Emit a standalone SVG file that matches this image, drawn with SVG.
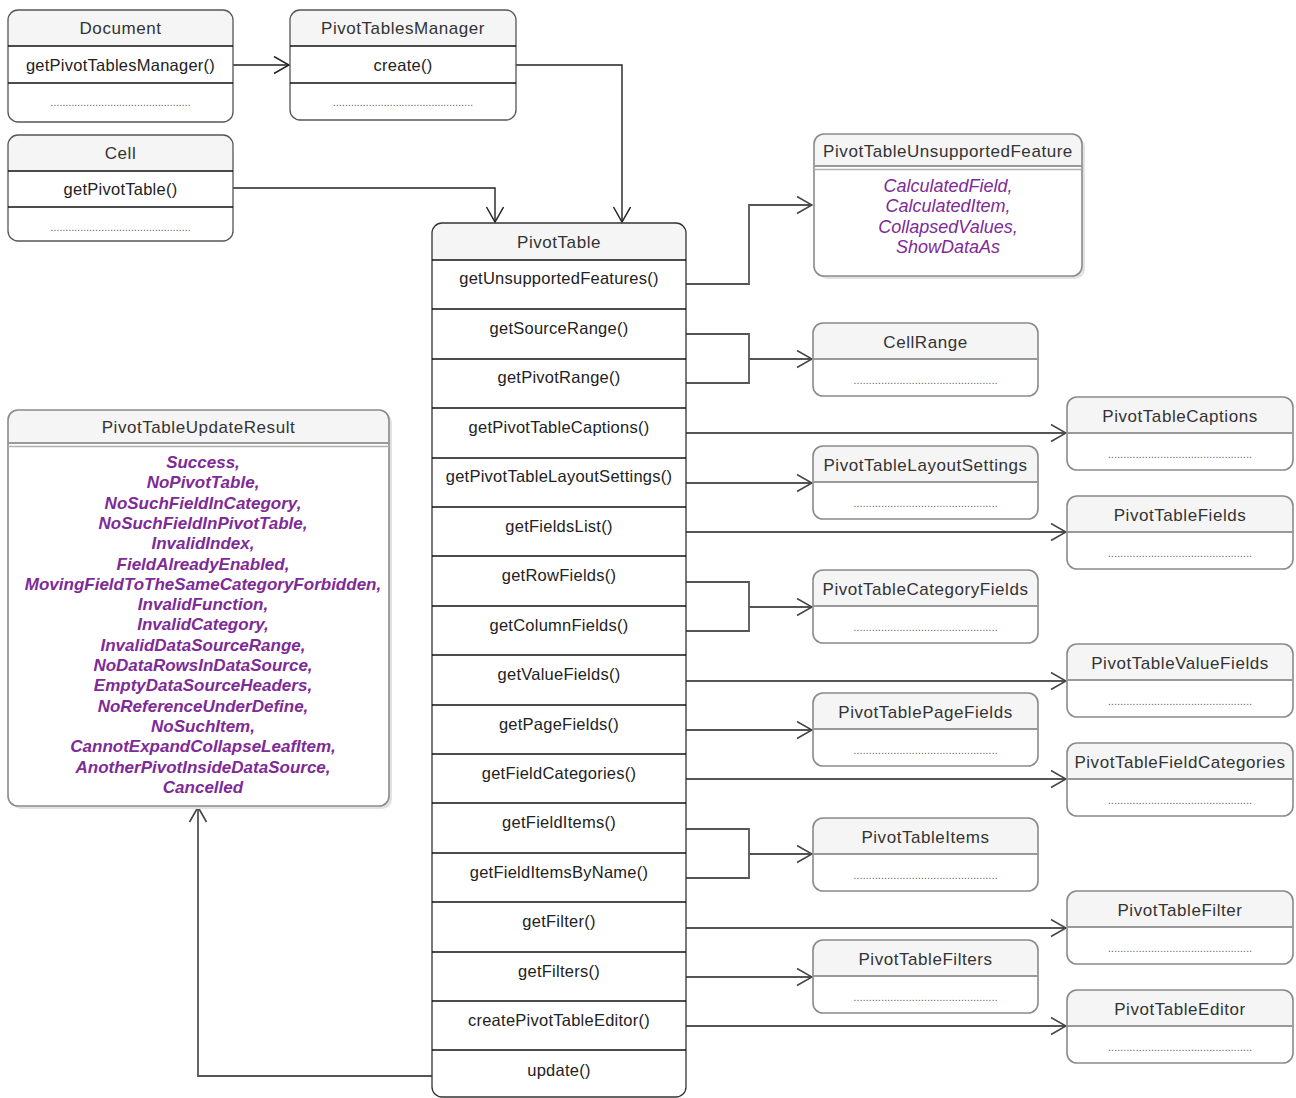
<svg xmlns="http://www.w3.org/2000/svg" width="1296" height="1098" viewBox="0 0 1296 1098">
  <style>
    text { font-family: "Liberation Sans", Arial, sans-serif; }
    .bg { fill: #ffffff; }
    .hdr { fill: #f5f5f5; }
    .title { font-size: 17px; letter-spacing: 0.55px; fill: #333333; text-anchor: middle; }
    .method { font-size: 16.5px; letter-spacing: 0.25px; fill: #222222; text-anchor: middle; }
    .dots { font-size: 10px; fill: #555555; text-anchor: middle; }
    .enum { font-size: 18px; font-style: italic; fill: #7e2a97; text-anchor: middle; }
    .enumb { font-size: 17px; font-style: italic; font-weight: bold; fill: #7e2a97; text-anchor: middle; }
    .dark { fill: none; stroke: #555555; stroke-width: 1.3; }
    .grey { fill: none; stroke: #8a8a8a; stroke-width: 1.6; }
    .sep { stroke: #111111; stroke-width: 1.3; }
    .gsep { stroke: #999999; stroke-width: 2; }
    .shadow { fill: #e2e2e2; }
    .edge { fill: none; stroke: #555555; stroke-width: 1.8; }
    .edgek { fill: none; stroke: #222222; stroke-width: 1.4; }
  </style>
  <defs>
    <marker id="open" markerUnits="userSpaceOnUse" markerWidth="17" markerHeight="20" refX="16" refY="9" orient="auto">
      <path d="M1,0.5 L16,9 L1,17.5" fill="none" stroke="#444444" stroke-width="1.6"/>
    </marker>
    <marker id="openk" markerUnits="userSpaceOnUse" markerWidth="17" markerHeight="20" refX="16" refY="9" orient="auto">
      <path d="M1,0.5 L16,9 L1,17.5" fill="none" stroke="#222222" stroke-width="1.5"/>
    </marker>
  </defs>

  <!-- connectors -->
  <g id="connectors">
    <path class="edgek" d="M233,65 H289" marker-end="url(#openk)"/>
    <path class="edgek" d="M516,65 H622 V222" marker-end="url(#openk)"/>
    <path class="edgek" d="M233,188 H495 V222" marker-end="url(#openk)"/>
    <path class="edge" d="M686,284 H749 V205 H812" marker-end="url(#open)"/>
    <path class="edge" d="M686,334 H749 V383 H686"/>
    <path class="edge" d="M749,359 H812" marker-end="url(#open)"/>
    <path class="edge" d="M686,433 H1066" marker-end="url(#open)"/>
    <path class="edge" d="M686,483 H812" marker-end="url(#open)"/>
    <path class="edge" d="M686,532 H1066" marker-end="url(#open)"/>
    <path class="edge" d="M686,582 H749 V631 H686"/>
    <path class="edge" d="M749,607 H812" marker-end="url(#open)"/>
    <path class="edge" d="M686,681 H1066" marker-end="url(#open)"/>
    <path class="edge" d="M686,730 H812" marker-end="url(#open)"/>
    <path class="edge" d="M686,779 H1066" marker-end="url(#open)"/>
    <path class="edge" d="M686,829 H749 V878 H686"/>
    <path class="edge" d="M749,854 H812" marker-end="url(#open)"/>
    <path class="edge" d="M686,928 H1066" marker-end="url(#open)"/>
    <path class="edge" d="M686,977 H812" marker-end="url(#open)"/>
    <path class="edge" d="M686,1026 H1066" marker-end="url(#open)"/>
    <path class="edge" d="M432,1076 H198 V807" marker-end="url(#open)"/>
  </g>

  <!-- Document -->
  <g id="document">
    <rect class="bg" x="8" y="10" width="225" height="112" rx="10"/>
    <path class="hdr" d="M18,10 H223 A10,10 0 0 1 233,20 V46 H8 V20 A10,10 0 0 1 18,10 Z"/>
    <rect class="dark" x="8" y="10" width="225" height="112" rx="10"/>
    <line class="sep" x1="8" y1="46" x2="233" y2="46"/>
    <line class="sep" x1="8" y1="83" x2="233" y2="83"/>
    <text class="title" x="120.5" y="34">Document</text>
    <text class="method" x="120.5" y="71">getPivotTablesManager()</text>
    <text class="dots" x="120.5" y="106" textLength="140" lengthAdjust="spacing">...............................................</text>
  </g>

  <!-- PivotTablesManager -->
  <g id="pivot-tables-manager">
    <rect class="bg" x="290" y="10" width="226" height="110" rx="10"/>
    <path class="hdr" d="M300,10 H506 A10,10 0 0 1 516,20 V46 H290 V20 A10,10 0 0 1 300,10 Z"/>
    <rect class="dark" x="290" y="10" width="226" height="110" rx="10"/>
    <line class="sep" x1="290" y1="46" x2="516" y2="46"/>
    <line class="sep" x1="290" y1="83" x2="516" y2="83"/>
    <text class="title" x="403" y="34">PivotTablesManager</text>
    <text class="method" x="403" y="71">create()</text>
    <text class="dots" x="403" y="106" textLength="140" lengthAdjust="spacing">...............................................</text>
  </g>

  <!-- Cell -->
  <g id="cell">
    <rect class="bg" x="8" y="135" width="225" height="106" rx="10"/>
    <path class="hdr" d="M18,135 H223 A10,10 0 0 1 233,145 V171 H8 V145 A10,10 0 0 1 18,135 Z"/>
    <rect class="dark" x="8" y="135" width="225" height="106" rx="10"/>
    <line class="sep" x1="8" y1="171" x2="233" y2="171"/>
    <line class="sep" x1="8" y1="207" x2="233" y2="207"/>
    <text class="title" x="120.5" y="159">Cell</text>
    <text class="method" x="120.5" y="195">getPivotTable()</text>
    <text class="dots" x="120.5" y="231" textLength="140" lengthAdjust="spacing">...............................................</text>
  </g>

  <!-- PivotTable -->
  <g id="pivot-table">
    <rect class="bg" x="432" y="223" width="254" height="874" rx="10"/>
    <path class="hdr" d="M442,223 H676 A10,10 0 0 1 686,233 V260 H432 V233 A10,10 0 0 1 442,223 Z"/>
    <rect x="432" y="223" width="254" height="874" rx="10" fill="none" stroke="#333333" stroke-width="1.3"/>
    <g class="sep">
      <line x1="432" y1="260" x2="686" y2="260"/>
      <line x1="432" y1="309" x2="686" y2="309"/>
      <line x1="432" y1="359" x2="686" y2="359"/>
      <line x1="432" y1="408" x2="686" y2="408"/>
      <line x1="432" y1="458" x2="686" y2="458"/>
      <line x1="432" y1="507" x2="686" y2="507"/>
      <line x1="432" y1="556" x2="686" y2="556"/>
      <line x1="432" y1="606" x2="686" y2="606"/>
      <line x1="432" y1="655" x2="686" y2="655"/>
      <line x1="432" y1="705" x2="686" y2="705"/>
      <line x1="432" y1="754" x2="686" y2="754"/>
      <line x1="432" y1="803" x2="686" y2="803"/>
      <line x1="432" y1="853" x2="686" y2="853"/>
      <line x1="432" y1="902" x2="686" y2="902"/>
      <line x1="432" y1="952" x2="686" y2="952"/>
      <line x1="432" y1="1001" x2="686" y2="1001"/>
      <line x1="432" y1="1050" x2="686" y2="1050"/>
    </g>
    <text class="title" x="559" y="248">PivotTable</text>
    <text class="method" x="559" y="284">getUnsupportedFeatures()</text>
    <text class="method" x="559" y="334">getSourceRange()</text>
    <text class="method" x="559" y="383">getPivotRange()</text>
    <text class="method" x="559" y="433">getPivotTableCaptions()</text>
    <text class="method" x="559" y="482">getPivotTableLayoutSettings()</text>
    <text class="method" x="559" y="532">getFieldsList()</text>
    <text class="method" x="559" y="581">getRowFields()</text>
    <text class="method" x="559" y="631">getColumnFields()</text>
    <text class="method" x="559" y="680">getValueFields()</text>
    <text class="method" x="559" y="730">getPageFields()</text>
    <text class="method" x="559" y="779">getFieldCategories()</text>
    <text class="method" x="559" y="828">getFieldItems()</text>
    <text class="method" x="559" y="878">getFieldItemsByName()</text>
    <text class="method" x="559" y="927">getFilter()</text>
    <text class="method" x="559" y="977">getFilters()</text>
    <text class="method" x="559" y="1026">createPivotTableEditor()</text>
    <text class="method" x="559" y="1076">update()</text>
  </g>

  <!-- PivotTableUnsupportedFeature -->
  <g id="pivot-table-unsupported-feature">
    <rect class="shadow" x="817" y="137" width="268" height="142" rx="10"/>
    <rect class="bg" x="814" y="134" width="268" height="142" rx="10"/>
    <path class="hdr" d="M824,134 H1072 A10,10 0 0 1 1082,144 V166 H814 V144 A10,10 0 0 1 824,134 Z"/>
    <rect class="grey" x="814" y="134" width="268" height="142" rx="10"/>
    <line class="gsep" x1="814" y1="166" x2="1082" y2="166"/>
    <line x1="814" y1="169.5" x2="1082" y2="169.5" stroke="#b0b0b0" stroke-width="1.5"/>
    <text class="title" x="948" y="157">PivotTableUnsupportedFeature</text>
    <text class="enum" x="948" y="192">CalculatedField,</text>
    <text class="enum" x="948" y="212">CalculatedItem,</text>
    <text class="enum" x="948" y="233">CollapsedValues,</text>
    <text class="enum" x="948" y="253">ShowDataAs</text>
  </g>

  <!-- PivotTableUpdateResult -->
  <g id="pivot-table-update-result">
    <rect class="shadow" x="11" y="413" width="381" height="396" rx="10"/>
    <rect class="bg" x="8" y="410" width="381" height="396" rx="10"/>
    <path class="hdr" d="M18,410 H379 A10,10 0 0 1 389,420 V443 H8 V420 A10,10 0 0 1 18,410 Z"/>
    <rect class="grey" x="8" y="410" width="381" height="396" rx="10"/>
    <line class="gsep" x1="8" y1="443" x2="389" y2="443"/>
    <line x1="8" y1="446.5" x2="389" y2="446.5" stroke="#b0b0b0" stroke-width="1.5"/>
    <text class="title" x="198.5" y="433">PivotTableUpdateResult</text>
    <text class="enumb" x="203" y="468">Success,</text>
    <text class="enumb" x="203" y="488.3">NoPivotTable,</text>
    <text class="enumb" x="203" y="508.6">NoSuchFieldInCategory,</text>
    <text class="enumb" x="203" y="528.9">NoSuchFieldInPivotTable,</text>
    <text class="enumb" x="203" y="549.2">InvalidIndex,</text>
    <text class="enumb" x="203" y="569.5">FieldAlreadyEnabled,</text>
    <text class="enumb" x="203" y="589.8">MovingFieldToTheSameCategoryForbidden,</text>
    <text class="enumb" x="203" y="610.1">InvalidFunction,</text>
    <text class="enumb" x="203" y="630.4">InvalidCategory,</text>
    <text class="enumb" x="203" y="650.7">InvalidDataSourceRange,</text>
    <text class="enumb" x="203" y="671">NoDataRowsInDataSource,</text>
    <text class="enumb" x="203" y="691.3">EmptyDataSourceHeaders,</text>
    <text class="enumb" x="203" y="711.6">NoReferenceUnderDefine,</text>
    <text class="enumb" x="203" y="731.9">NoSuchItem,</text>
    <text class="enumb" x="203" y="752.2">CannotExpandCollapseLeafItem,</text>
    <text class="enumb" x="203" y="772.5">AnotherPivotInsideDataSource,</text>
    <text class="enumb" x="203" y="792.8">Cancelled</text>
  </g>

  <!-- result classes, left column -->
  <g id="cell-range">
    <rect class="bg" x="813" y="323" width="225" height="73" rx="10"/>
    <path class="hdr" d="M823,323 H1028 A10,10 0 0 1 1038,333 V359 H813 V333 A10,10 0 0 1 823,323 Z"/>
    <rect class="grey" x="813" y="323" width="225" height="73" rx="10"/>
    <line class="gsep" x1="813" y1="359" x2="1038" y2="359"/>
    <text class="title" x="925.5" y="348">CellRange</text>
    <text class="dots" x="925.5" y="384" textLength="144" lengthAdjust="spacing">...............................................</text>
  </g>
  <g id="pivot-table-layout-settings">
    <rect class="bg" x="813" y="446" width="225" height="73" rx="10"/>
    <path class="hdr" d="M823,446 H1028 A10,10 0 0 1 1038,456 V482 H813 V456 A10,10 0 0 1 823,446 Z"/>
    <rect class="grey" x="813" y="446" width="225" height="73" rx="10"/>
    <line class="gsep" x1="813" y1="482" x2="1038" y2="482"/>
    <text class="title" x="925.5" y="471">PivotTableLayoutSettings</text>
    <text class="dots" x="925.5" y="507" textLength="144" lengthAdjust="spacing">...............................................</text>
  </g>
  <g id="pivot-table-category-fields">
    <rect class="bg" x="813" y="570" width="225" height="73" rx="10"/>
    <path class="hdr" d="M823,570 H1028 A10,10 0 0 1 1038,580 V606 H813 V580 A10,10 0 0 1 823,570 Z"/>
    <rect class="grey" x="813" y="570" width="225" height="73" rx="10"/>
    <line class="gsep" x1="813" y1="606" x2="1038" y2="606"/>
    <text class="title" x="925.5" y="595">PivotTableCategoryFields</text>
    <text class="dots" x="925.5" y="631" textLength="144" lengthAdjust="spacing">...............................................</text>
  </g>
  <g id="pivot-table-page-fields">
    <rect class="bg" x="813" y="693" width="225" height="73" rx="10"/>
    <path class="hdr" d="M823,693 H1028 A10,10 0 0 1 1038,703 V729 H813 V703 A10,10 0 0 1 823,693 Z"/>
    <rect class="grey" x="813" y="693" width="225" height="73" rx="10"/>
    <line class="gsep" x1="813" y1="729" x2="1038" y2="729"/>
    <text class="title" x="925.5" y="718">PivotTablePageFields</text>
    <text class="dots" x="925.5" y="754" textLength="144" lengthAdjust="spacing">...............................................</text>
  </g>
  <g id="pivot-table-items">
    <rect class="bg" x="813" y="818" width="225" height="73" rx="10"/>
    <path class="hdr" d="M823,818 H1028 A10,10 0 0 1 1038,828 V854 H813 V828 A10,10 0 0 1 823,818 Z"/>
    <rect class="grey" x="813" y="818" width="225" height="73" rx="10"/>
    <line class="gsep" x1="813" y1="854" x2="1038" y2="854"/>
    <text class="title" x="925.5" y="843">PivotTableItems</text>
    <text class="dots" x="925.5" y="879" textLength="144" lengthAdjust="spacing">...............................................</text>
  </g>
  <g id="pivot-table-filters">
    <rect class="bg" x="813" y="940" width="225" height="73" rx="10"/>
    <path class="hdr" d="M823,940 H1028 A10,10 0 0 1 1038,950 V976 H813 V950 A10,10 0 0 1 823,940 Z"/>
    <rect class="grey" x="813" y="940" width="225" height="73" rx="10"/>
    <line class="gsep" x1="813" y1="976" x2="1038" y2="976"/>
    <text class="title" x="925.5" y="965">PivotTableFilters</text>
    <text class="dots" x="925.5" y="1001" textLength="144" lengthAdjust="spacing">...............................................</text>
  </g>

  <!-- result classes, right column -->
  <g id="pivot-table-captions">
    <rect class="bg" x="1067" y="397" width="226" height="73" rx="10"/>
    <path class="hdr" d="M1077,397 H1283 A10,10 0 0 1 1293,407 V433 H1067 V407 A10,10 0 0 1 1077,397 Z"/>
    <rect class="grey" x="1067" y="397" width="226" height="73" rx="10"/>
    <line class="gsep" x1="1067" y1="433" x2="1293" y2="433"/>
    <text class="title" x="1180" y="422">PivotTableCaptions</text>
    <text class="dots" x="1180" y="458" textLength="144" lengthAdjust="spacing">...............................................</text>
  </g>
  <g id="pivot-table-fields">
    <rect class="bg" x="1067" y="496" width="226" height="73" rx="10"/>
    <path class="hdr" d="M1077,496 H1283 A10,10 0 0 1 1293,506 V532 H1067 V506 A10,10 0 0 1 1077,496 Z"/>
    <rect class="grey" x="1067" y="496" width="226" height="73" rx="10"/>
    <line class="gsep" x1="1067" y1="532" x2="1293" y2="532"/>
    <text class="title" x="1180" y="521">PivotTableFields</text>
    <text class="dots" x="1180" y="557" textLength="144" lengthAdjust="spacing">...............................................</text>
  </g>
  <g id="pivot-table-value-fields">
    <rect class="bg" x="1067" y="644" width="226" height="73" rx="10"/>
    <path class="hdr" d="M1077,644 H1283 A10,10 0 0 1 1293,654 V680 H1067 V654 A10,10 0 0 1 1077,644 Z"/>
    <rect class="grey" x="1067" y="644" width="226" height="73" rx="10"/>
    <line class="gsep" x1="1067" y1="680" x2="1293" y2="680"/>
    <text class="title" x="1180" y="669">PivotTableValueFields</text>
    <text class="dots" x="1180" y="705" textLength="144" lengthAdjust="spacing">...............................................</text>
  </g>
  <g id="pivot-table-field-categories">
    <rect class="bg" x="1067" y="743" width="226" height="73" rx="10"/>
    <path class="hdr" d="M1077,743 H1283 A10,10 0 0 1 1293,753 V779 H1067 V753 A10,10 0 0 1 1077,743 Z"/>
    <rect class="grey" x="1067" y="743" width="226" height="73" rx="10"/>
    <line class="gsep" x1="1067" y1="779" x2="1293" y2="779"/>
    <text class="title" x="1180" y="768">PivotTableFieldCategories</text>
    <text class="dots" x="1180" y="804" textLength="144" lengthAdjust="spacing">...............................................</text>
  </g>
  <g id="pivot-table-filter">
    <rect class="bg" x="1067" y="891" width="226" height="73" rx="10"/>
    <path class="hdr" d="M1077,891 H1283 A10,10 0 0 1 1293,901 V927 H1067 V901 A10,10 0 0 1 1077,891 Z"/>
    <rect class="grey" x="1067" y="891" width="226" height="73" rx="10"/>
    <line class="gsep" x1="1067" y1="927" x2="1293" y2="927"/>
    <text class="title" x="1180" y="916">PivotTableFilter</text>
    <text class="dots" x="1180" y="952" textLength="144" lengthAdjust="spacing">...............................................</text>
  </g>
  <g id="pivot-table-editor">
    <rect class="bg" x="1067" y="990" width="226" height="73" rx="10"/>
    <path class="hdr" d="M1077,990 H1283 A10,10 0 0 1 1293,1000 V1026 H1067 V1000 A10,10 0 0 1 1077,990 Z"/>
    <rect class="grey" x="1067" y="990" width="226" height="73" rx="10"/>
    <line class="gsep" x1="1067" y1="1026" x2="1293" y2="1026"/>
    <text class="title" x="1180" y="1015">PivotTableEditor</text>
    <text class="dots" x="1180" y="1051" textLength="144" lengthAdjust="spacing">...............................................</text>
  </g>
</svg>
